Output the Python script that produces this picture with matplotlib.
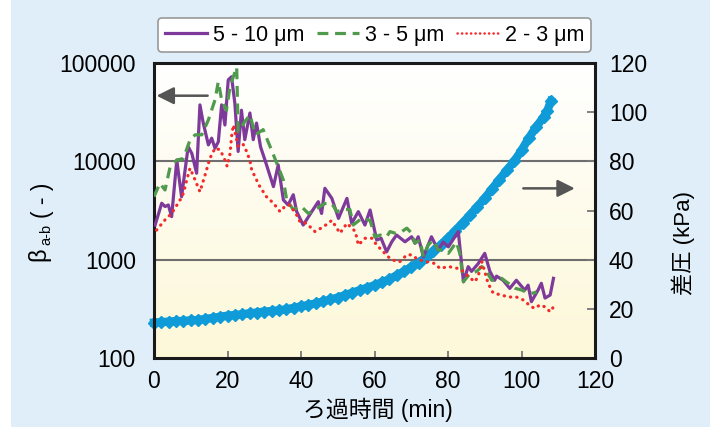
import numpy as np
import matplotlib
matplotlib.use("Agg")
import matplotlib.pyplot as plt
from matplotlib.patches import Rectangle
from matplotlib.lines import Line2D
from matplotlib.colors import LinearSegmentedColormap
from matplotlib.transforms import blended_transform_factory

plt.rcParams['font.family'] = ['Liberation Sans', 'Noto Sans CJK JP', 'DejaVu Sans']

# ---- data ----
purple_t = [0.3, 2.1, 3.0, 3.9, 4.8, 6.2, 7.5, 9.3, 10.3, 11.6, 12.5, 13.4, 14.8, 15.7,
            16.6, 17.5, 18.4, 19.3, 20.2, 21.1, 22.0, 22.9, 23.8, 24.7, 26.1, 27.0, 27.9,
            29.0, 30.2, 32.5, 33.8, 35.2, 36.5, 37.9, 38.8, 40.6, 42.9, 44.7, 45.6, 46.5,
            48.4, 50.2, 52.5, 53.8, 55.6, 57.4, 58.8, 60.6, 61.8, 63.3, 64.7, 66.0, 68.3,
            70.1, 71.0, 71.9, 73.3, 75.5, 77.3, 78.7, 80.1, 82.8, 84.2, 85.5, 86.4, 88.2,
            90.0, 91.4, 92.7, 93.2, 95.0, 96.8, 98.6, 100.9, 101.8, 102.7, 104.5, 105.4,
            106.4, 107.8, 108.7]
purple_v = [2250, 3750, 3470, 3600, 2740, 10300, 4370, 14100, 12000, 7570, 37500, 24500,
            14700, 17200, 13600, 15800, 37500, 23400, 67300, 72500, 38900, 12600, 33100,
            16600, 31000, 16600, 24500, 14000, 10300, 5530, 9190, 4050, 3600, 4570, 3100,
            2250, 3070, 3890, 2950, 5320, 4200, 2630, 4200, 2340, 3080, 2250, 3200, 1585,
            1650, 1200, 1520, 1780, 1520, 1710, 1470, 1710, 1070, 1710, 1255, 1510, 1350,
            1930, 596, 850, 760, 910, 1160, 760, 617, 680, 617, 510, 617, 490, 550, 374,
            490, 575, 407, 437, 646]

green_t = [0, 1.6, 3.0, 4.4, 6.2, 8.0, 9.8, 11.2, 13.0, 14.8, 16.6, 17.5, 18.4, 19.7, 20.7,
           21.6, 22.5, 22.9, 24.7, 26.1, 27.6, 29.7, 31.6, 33.4, 35.2, 36.1, 37.9, 40.1,
           42.0, 44.3, 46.5, 48.4, 49.7, 52.0, 53.3, 54.2, 56.5, 58.8, 60.1, 61.5, 63.3,
           64.2, 65.6, 67.4, 68.8, 70.1, 71.0, 72.4, 73.3, 74.6, 76.0, 77.3, 78.7, 80.1,
           82.3, 83.2, 84.2, 86.0, 87.8, 89.2, 90.5, 91.9, 93.2, 94.6, 96.4, 98.2, 100.1,
           101.8, 103.2, 104.1]
green_v = [4370, 5980, 5110, 8830, 10300, 10700, 16500, 18600, 18600, 26400, 42200, 64600,
           42200, 33100, 57500, 72500, 91000, 20000, 25300, 29600, 18600, 21000, 14100,
           9600, 6450, 4050, 3230, 3470, 2950, 3310, 3720, 3720, 3090, 3240, 3240, 2250,
           2630, 2510, 1700, 1780, 1710, 1930, 1860, 1930, 2090, 1860, 1470, 1585, 1070,
           1410, 1585, 1255, 1255, 1160, 1510, 1160, 596, 724, 760, 850, 760, 617, 617,
           646, 575, 513, 490, 457, 457, 470]

red_t = [0.7, 3.0, 4.8, 7.1, 8.0, 8.9, 9.8, 11.2, 12.5, 13.9, 15.2, 16.6, 18.0, 19.3, 19.9,
         20.7, 21.1, 21.6, 22.5, 22.9, 24.3, 25.2, 26.1, 26.6, 27.0, 28.8, 30.6, 32.5, 34.3,
         35.6, 37.0, 38.8, 39.7, 41.5, 43.8, 46.1, 48.4, 50.6, 52.5, 54.8, 55.6, 57.4, 59.3,
         60.6, 62.4, 64.2, 66.0, 66.9, 68.8, 70.1, 71.9, 74.2, 76.5, 77.8, 80.1, 82.8, 84.2,
         85.5, 87.3, 88.2, 89.2, 90.0, 90.9, 92.3, 94.6, 96.4, 98.6, 100.5, 102.7, 103.7,
         105.0, 106.4, 107.8, 108.7]
red_v = [2000, 2540, 2950, 4050, 4730, 6450, 8510, 6450, 4900, 7270, 10700, 13600, 13100,
         10300, 8900, 12000, 17800, 23400, 16600, 14100, 14800, 12600, 10200, 8100, 7590,
         5530, 4370, 3750, 3080, 3470, 3600, 2850, 2440, 2340, 1930, 2160, 2510, 1860, 2340,
         1930, 1410, 1650, 1650, 1410, 1200, 1030, 955, 955, 1120, 1120, 1000, 955, 912, 813,
         851, 813, 759, 676, 596, 676, 955, 759, 575, 457, 437, 417, 417, 389, 331, 320, 347,
         331, 295, 331]

press_t = [0, 2, 4, 6, 8, 10, 12, 14, 16, 18, 20, 22, 24, 26, 28, 30, 32, 34, 36, 38, 40,
           42, 44, 46, 48, 50, 52, 54, 56, 58, 60, 62, 64, 66, 68, 70, 72, 74, 76, 78, 80,
           82, 84, 86, 88, 90, 92, 94, 96, 98, 100, 102, 104, 106, 107, 108]
press_v = [14.4, 14.6, 14.8, 15.0, 15.1, 15.3, 15.5, 15.9, 16.3, 16.8, 17.2, 17.5, 17.8,
           18.2, 18.5, 18.9, 19.1, 19.4, 19.8, 20.4, 21.0, 21.6, 22.2, 23.0, 23.8, 24.6,
           25.6, 26.6, 27.6, 28.6, 29.6, 30.8, 32.0, 33.6, 35.2, 37.0, 38.8, 41.0, 43.4,
           46.0, 48.8, 51.8, 55.0, 58.2, 61.6, 65.0, 68.8, 72.6, 76.4, 80.0, 84.5, 89.5,
           94.0, 98.0, 100.5, 104.5]

labels = ["5 - 10 μm", "3 - 5 μm", "2 - 3 μm"]
left_ticks = [100, 1000, 10000, 100000]
right_ticks = [0, 20, 40, 60, 80, 100, 120]
x_ticks = [0, 20, 40, 60, 80, 100, 120]

PURPLE = "#7e3a9a"
GREEN = "#4f9a4c"
RED = "#f42a2a"
BLUE = "#0e9bd8"
GRAY = "#555555"

W, H = 710, 428
fig = plt.figure(figsize=(W / 100, H / 100), dpi=100, facecolor="white")
fig.patches.append(Rectangle((11 / W, 1 / H), 1, 1, transform=fig.transFigure,
                             facecolor="#dfeef9", edgecolor="none", zorder=-10))

rect = [154 / W, 1 - 358 / H, 441 / W, 295 / H]
ax2 = fig.add_axes(rect)             # pressure axis (underneath)
ax = fig.add_axes(rect, sharex=ax2)  # beta axis (on top)
ax.patch.set_visible(False)
ax2.yaxis.tick_right()

# gradient background
grad = np.linspace(0, 1, 256).reshape(-1, 1)
bg = LinearSegmentedColormap.from_list("bg", ["#fdf8d8", "#ffffff"])
ax2.imshow(grad, cmap=bg, extent=[0, 1, 0, 1], transform=ax2.transAxes,
           aspect="auto", origin="lower", zorder=0)

# grid lines at 1000 and 10000 (under the pressure markers)
tr = blended_transform_factory(ax2.transAxes, ax.transData)
for g in [1000, 10000]:
    ax2.plot([0, 1], [g, g], transform=tr, color="#6e6e6e", lw=1.5, zorder=1)

ax2.plot(press_t, press_v, color=BLUE, lw=6, marker="D", ms=6, mec=BLUE,
         zorder=2, clip_on=False)
ax2.set_ylim(0, 120)
ax2.set_yticks(right_ticks)
ax2.tick_params(axis="y", direction="in", length=6, width=1.3, color="#777777",
                labelsize=16.5, pad=10)
ax2.tick_params(axis="x", direction="in", length=5, width=1.3, color="#777777",
                labelsize=16.5, pad=9)
for s in ax2.spines.values():
    s.set_visible(False)

ax.plot(purple_t, purple_v, color=PURPLE, lw=2.3, label=labels[0], zorder=3)
ax.plot(green_t, green_v, color=GREEN, lw=2.3, dashes=(3.4, 2.1), label=labels[1], zorder=3)
ax.plot(red_t, red_v, color=RED, lw=2.3, linestyle=(0, (0.1, 1.9)),
        dash_capstyle="round", label=labels[2], zorder=3)

ax.set_yscale("log")
ax.set_ylim(100, 100000)
ax.set_xlim(0, 120)
ax.set_yticks(left_ticks)
ax.set_yticklabels([str(v) for v in left_ticks])
ax.yaxis.set_minor_locator(matplotlib.ticker.NullLocator())
ax.tick_params(axis="y", length=0, labelsize=16.5, pad=13)
ax.tick_params(axis="x", length=0, labelbottom=False)
ax2.set_xticks(x_ticks)
for s in ax.spines.values():
    s.set_linewidth(2.2)
    s.set_color("#1a1a1a")

# arrows
ax.annotate("", xy=(0.7, 46500), xytext=(14.6, 46500),
            arrowprops=dict(arrowstyle="-|>", color=GRAY, lw=1.8, mutation_scale=26,
                            shrinkA=0, shrinkB=0))
ax2.annotate("", xy=(114.5, 69), xytext=(100.5, 69),
             arrowprops=dict(arrowstyle="-|>", color=GRAY, lw=1.8, mutation_scale=26,
                             shrinkA=0, shrinkB=0))

# axis labels
fig.text(378 / W, 1 - 410 / H, "ろ過時間 (min)", ha="center", va="center", fontsize=16.5)
fig.text(683 / W, 1 - 243 / H, "差圧 (kPa)", ha="center", va="center", fontsize=16,
         rotation=90)
fig.text(39 / W, 1 - 254 / H, "β", ha="center", va="center", fontsize=17, rotation=90)
fig.text(46 / W, 1 - 234 / H, "a-b", ha="center", va="center", fontsize=10.5, rotation=90)
fig.text(42 / W, 1 - 200 / H, "( - )", ha="center", va="center", fontsize=16.5, rotation=90)

# legend
handles = [Line2D([], [], color=PURPLE, lw=2.3),
           Line2D([], [], color=GREEN, lw=2.3, dashes=(3.4, 2.1)),
           Line2D([], [], color=RED, lw=1.8, linestyle=(0, (0.1, 1.7)), dash_capstyle="round")]
leg = fig.legend(handles, labels, ncol=3, loc="center",
                 bbox_to_anchor=(374.5 / W, 1 - 35 / H), fontsize=15.5, frameon=True,
                 fancybox=True, edgecolor="#999999", facecolor="white", framealpha=1,
                 handlelength=1.95, handletextpad=0.28, columnspacing=0.6,
                 borderpad=0.3, borderaxespad=0)
leg.get_frame().set_linewidth(1.2)

fig.savefig("out.png", dpi=100, facecolor=fig.get_facecolor())
